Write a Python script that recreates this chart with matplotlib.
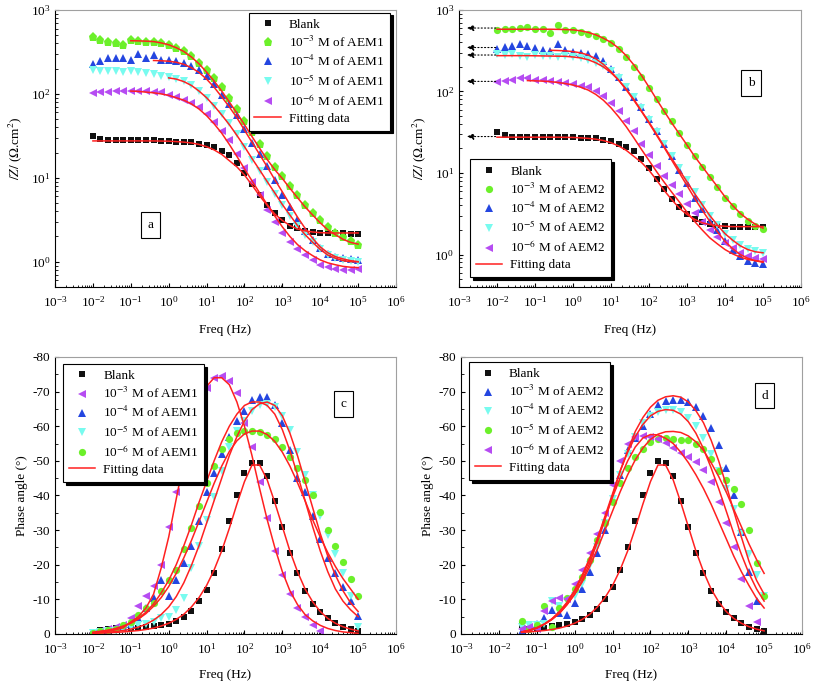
import matplotlib
matplotlib.use('Agg')
import matplotlib.pyplot as plt
from matplotlib.ticker import LogLocator, NullFormatter, FixedLocator, MultipleLocator

plt.rcParams['font.family'] = 'Liberation Serif'
plt.rcParams['mathtext.fontset'] = 'stix'
plt.rcParams['axes.unicode_minus'] = False

# measured frequencies (Hz), 5 points per decade, 10 mHz .. 100 kHz
freq = [0.01, 0.0158, 0.0251, 0.0398, 0.0631,
        0.1, 0.158, 0.251, 0.398, 0.631,
        1.0, 1.58, 2.51, 3.98, 6.31,
        10, 15.8, 25.1, 39.8, 63.1,
        100, 158, 251, 398, 631,
        1000, 1580, 2510, 3980, 6310,
        1e4, 1.58e4, 2.51e4, 3.98e4, 6.31e4, 1e5]

# ---- |Z| data (Ohm cm2) ----
blank_z = [31.5, 29, 28, 28, 28, 28, 28, 28, 28, 27.5, 27.5, 27, 27, 26.5, 25.5, 24.5, 23, 21,
           18.5, 15, 11.5, 8.5, 6.3, 4.8, 3.8, 3.1, 2.7, 2.5, 2.35, 2.28, 2.22, 2.2, 2.18, 2.17, 2.16, 2.15]
blank_z_fit = [27.5, 27.5, 27.5, 27.5, 27.5, 27.5, 27.5, 27.5, 27.5, 27.4, 27.3, 27.0, 26.6, 26.0, 25.0,
               23.5, 21.5, 19.0, 16.0, 13.5, 10.8, 8.2, 6.1, 4.7, 3.7, 3.1, 2.7, 2.45, 2.33, 2.26,
               2.22, 2.2, 2.2, 2.2, 2.2, 2.2]

# panel a : AEM1
a_m3 = [470, 440, 410, 400, 385, 440, 430, 420, 420, 400, 380, 350, 320, 280, 235, 195, 155, 120,
        90, 66, 48, 35, 25, 18, 13.5, 10.5, 8, 6.2, 4.8, 3.8, 3.1, 2.6, 2.2, 1.95, 1.75, 1.6]
a_m4 = [225, 245, 265, 265, 270, 255, 300, 265, 290, 255, 250, 245, 235, 215, 190, 165, 130, 98,
        76, 56, 38, 26, 19, 14, 9.5, 6.3, 4.5, 3.1, 2.3, 1.8, 1.45, 1.25, 1.15, 1.1, 1.07, 1.06]
a_m5 = [190, 185, 185, 185, 183, 185, 182, 178, 172, 165, 160, 150, 142, 128, 108, 90, 72, 57,
        45, 33, 23, 16.5, 12, 8.8, 6.4, 4.7, 3.5, 2.7, 2.1, 1.7, 1.4, 1.2, 1.1, 1.05, 1.02, 1.0]
a_m6 = [103, 105, 106, 107, 107, 108, 108, 107, 106, 104, 98, 92, 85, 77, 69, 57, 46, 36,
        28, 19, 13, 8.8, 6.3, 4.1, 3.0, 2.2, 1.7, 1.4, 1.2, 1.05, 0.92, 0.86, 0.82, 0.8, 0.8, 0.81]
# fits end at 100 kHz, they start at a later frequency
a_m3_fit = [430, 428, 425, 420, 405, 385, 355, 320, 275, 228, 182, 142, 108, 80, 59, 43, 31, 22.5,
            16.5, 12.5, 9.8, 7.5, 5.8, 4.5, 3.6, 2.9, 2.4, 2.1, 1.85, 1.7, 1.62]
a_m4_fit = [250, 248, 245, 238, 225, 205, 180, 150, 120, 92, 70, 52, 37, 26.5, 19, 13.5, 9.5, 6.8,
            4.8, 3.4, 2.5, 1.9, 1.5, 1.28, 1.15, 1.08, 1.03, 1.0]
a_m5_fit = [155, 150, 140, 126, 108, 90, 72, 56, 43, 32, 23.5, 17, 12.4, 9, 6.6, 4.8, 3.6, 2.7,
            2.1, 1.7, 1.4, 1.2, 1.1, 1.03, 1.0, 1.0]
a_m6_fit = [108, 107, 105, 103, 100, 96, 90, 84, 76, 66, 55, 44, 34, 25, 18, 12.8, 9.2, 6.6, 4.8,
            3.5, 2.6, 2.0, 1.6, 1.35, 1.18, 1.05, 0.97, 0.92, 0.88, 0.86, 0.85]

# panel b : AEM2
b_m3 = [570, 580, 590, 600, 620, 590, 580, 520, 650, 570, 560, 540, 510, 480, 440, 390, 330, 265,
        200, 150, 110, 80, 58, 43, 31, 22, 16, 12, 9, 6.8, 5, 3.9, 3.1, 2.6, 2.25, 2.05]
b_m4 = [330, 350, 360, 380, 360, 340, 320, 310, 380, 320, 305, 300, 290, 270, 235, 190, 150, 115,
        86, 64, 46, 33, 23, 16, 11, 7.5, 5, 3.6, 2.6, 2.0, 1.45, 1.15, 0.95, 0.83, 0.78, 0.76]
b_m5 = [290, 280, 285, 270, 265, 280, 275, 270, 265, 270, 265, 255, 245, 225, 205, 178, 145, 112,
        85, 62, 45, 32, 23, 16, 11.5, 8.2, 5.8, 4.1, 3, 2.3, 1.8, 1.5, 1.3, 1.18, 1.1, 1.05]
b_m6 = [130, 135, 140, 145, 145, 140, 138, 135, 132, 128, 124, 118, 112, 100, 88, 72, 57, 44,
        33, 23, 16.5, 12.2, 9.3, 7.2, 5.6, 4.2, 3.2, 2.5, 2.0, 1.65, 1.4, 1.2, 1.05, 0.95, 0.9, 0.87]
b_m3_fit = [580, 580, 580, 580, 580, 580, 580, 580, 578, 575, 570, 555, 530, 495, 450, 400, 340, 275,
            212, 158, 113, 80, 57, 41, 30, 22, 16, 12, 9, 6.8, 5.1, 4, 3.2, 2.7, 2.35, 2.1]
b_m4_fit = [320, 318, 315, 308, 298, 280, 252, 215, 175, 138, 105, 78, 57, 41, 29, 20.5, 14.3, 10,
            7, 4.9, 3.5, 2.55, 1.9, 1.45, 1.18, 1.0, 0.9, 0.84, 0.8]
b_m5_fit = [275, 275, 275, 275, 275, 274, 273, 272, 271, 270, 265, 258, 245, 225, 200, 170, 138, 107,
            80, 58, 42, 30, 21, 15, 10.8, 7.8, 5.6, 4.1, 3.0, 2.3, 1.8, 1.5, 1.28, 1.15, 1.08, 1.05]
b_m6_fit = [136, 135, 134, 132, 129, 125, 120, 113, 104, 92, 78, 63, 49, 37, 27, 19.5, 14.2, 10.4,
            7.7, 5.8, 4.4, 3.3, 2.55, 2.0, 1.6, 1.35, 1.15, 1.02, 0.93, 0.87, 0.84, 0.82]
b_dc_levels = [600, 346, 280, 133, 28]   # extrapolated low-frequency limits

# ---- phase angle data (deg) ----
blank_ph = [-0.5, -1.2, -1.5, -1.6, -1.6, -1.6, -1.8, -2, -2.2, -2.5, -3, -3.8, -4.8, -6.5, -9.5,
            -12.8, -17.5, -24.5, -32.5, -40, -46.5, -49.5, -49.5, -45.5, -38.5, -31, -23.5, -17.5,
            -12.5, -8.8, -6.4, -4.5, -3.2, -2.1, -1.4, -0.8]
blank_ph_fit = [-0.2, -0.3, -0.35, -0.45, -0.6, -0.8, -1.0, -1.3, -1.7, -2.3, -3.1, -4.2, -5.7, -7.8,
                -10.5, -14, -18.5, -24, -30.5, -37.5, -44, -48.8, -48.8, -44.5, -38, -31, -24, -18,
                -13, -9.3, -6.5, -4.5, -3.1, -2.1, -1.4, -0.9]

# panel c : AEM1 (10^-3 series stops at 10 kHz)
c_m3 = [-0.3, -0.8, -1.5, -2, -2.5, -4.5, -8, -11, -14, -20, -31, -41, -51, -60, -67, -71, -74,
        -74.5, -73, -69.5, -61, -54, -44, -33.5, -24, -17, -11.5, -7.5, -4.8, -2.6, -1.0]
c_m4 = [-0.3, -0.6, -1, -1.5, -2, -3, -4.5, -7.5, -10.5, -15.5, -11, -15.5, -20.5, -25.5, -32.5, -41,
        -46.5, -52, -57, -61.5, -64.5, -67.5, -68.5, -68.5, -66, -61, -53, -45, -41, -34, -27.5,
        -22, -17.5, -13.5, -9.5, -5.3]
c_m5 = [-0.3, -0.5, -0.8, -1, -1.5, -2, -2.5, -3, -3.5, -4.5, -5, -7, -10.5, -19, -25.5, -33, -39.5,
        -47, -54, -58.5, -61.5, -64.5, -66, -66.5, -65.5, -63, -59, -52.5, -46, -40, -34, -28.5,
        -23, -17.5, -11, -2]
c_m6 = [-0.3, -0.8, -1.2, -1.5, -2.5, -3.5, -5.5, -7.5, -9, -12.5, -15.5, -18.5, -24.5, -30.5, -37,
        -43.5, -48.5, -53.5, -56.3, -58, -58.7, -58.5, -58.2, -57.5, -56.2, -54, -51.2, -47.8,
        -44.5, -40, -35.3, -30, -25.5, -20.8, -16, -11]
c_m3_fit = [-0.3, -0.5, -0.8, -1.2, -1.8, -3.5, -5, -7.5, -11.5, -19, -28, -39, -50, -60, -67, -71.5,
            -74, -74, -72, -67, -60, -51.5, -42, -33, -25, -18, -12.5, -8.5, -5.6, -3.8, -2.5,
            -1.6, -1.0, -0.6, -0.4, -0.2]
c_m4_fit = [-0.5, -0.8, -1.1, -1.6, -2.3, -3.2, -4.5, -6.3, -8.7, -11.8, -15.5, -20, -25.5, -31.5,
            -38, -44, -50, -55.5, -60, -63.5, -66, -67, -67, -66, -63.5, -59, -53, -46, -38.5, -31,
            -24, -18, -13, -9.5, -7, -5]
c_m5_fit = [-0.3, -0.4, -0.5, -0.7, -1.0, -1.4, -2, -2.8, -4, -5.6, -7.8, -10.8, -14.8, -19.8, -25.5,
            -32, -38.5, -45, -51.5, -57, -61.5, -64.8, -66.5, -67, -66, -63, -58, -51.5, -44, -36.5,
            -29, -22.5, -17, -12.5, -9, -6.5]
c_m6_fit = [-0.4, -0.7, -1.0, -1.5, -2.2, -3.1, -4.3, -5.9, -8, -10.5, -13.7, -17.5, -22, -27, -32.5,
            -38, -43.5, -48.5, -52.7, -55.8, -57.8, -58.6, -58.6, -57.6, -55.6, -52.5, -48.5, -43.7,
            -38.5, -33, -28, -23.5, -19.5, -16, -13, -10]

# panel d : AEM2 (measured from 40 mHz)
d_blank = [-2.5, -1.5, -1.5, -1.8, -2.3, -2.6, -3, -3.4, -4.2, -5.5, -7.2, -10, -13.5, -18.5, -25,
           -32.5, -40, -46.5, -50, -49.5, -45.5, -38.5, -31, -23.5, -17.5, -12.5, -8.8, -6.4, -4.5,
           -3.2, -2.1, -1.4, -0.8]
d_m3 = [-1, -2, -3, -4.5, -7, -6, -5.5, -9, -13, -18, -23.5, -30, -39, -46, -53, -56.5, -60, -63.5,
        -66, -67.3, -67.7, -67.5, -67, -65.5, -63, -59.5, -54.5, -48, -40, -29.5, -18, -9.5]
d_m4 = [-2, -2.5, -2.5, -3, -9.5, -8, -9.5, -11, -14.5, -20, -25, -32, -39, -46, -52, -57, -60.8, -63,
        -64.2, -64.7, -64.7, -64, -62.3, -60, -56.5, -52, -47, -42, -36, -29, -23, -17, -11]
d_m5 = [-3.8, -1.5, -2.5, -8, -2, -7.5, -10.5, -13, -16.5, -21.5, -27, -32, -38, -43.5, -48, -51,
        -53.5, -55.5, -56.3, -56.6, -56.3, -56, -56, -55, -53.5, -50.5, -47, -44.5, -42, -37.5,
        -30, -20.5, -11]
d_m6 = [-1.5, -2, -1.5, -6.5, -9.5, -10.5, -10, -14.5, -18.5, -23.5, -29, -35, -43, -50, -55, -56.8,
        -57.2, -56.8, -56.3, -55.2, -53.6, -52.2, -51.2, -49.7, -47.3, -44, -38, -32, -25, -16,
        -8, -3.5]
d_m3_fit = [-0.5, -1, -1.7, -2.8, -4.2, -6, -8.5, -11.5, -15.5, -20.5, -26.5, -33, -40, -47, -53,
            -58.5, -62.5, -65.5, -67.5, -68.5, -68.8, -68.4, -67, -64.5, -61, -56, -50, -43, -35.5,
            -28, -21, -15.5, -11.5]
d_m4_fit = [-0.5, -1, -1.7, -2.8, -4.3, -6.3, -9, -12.3, -16.5, -21.5, -27.5, -34, -40.5, -47, -52.5,
            -57, -60.5, -63, -64.3, -64.8, -64.6, -63.5, -61.3, -58, -53.5, -48, -42, -35.5, -29,
            -23, -17.5, -13, -9.5]
d_m5_fit = [-0.6, -1.1, -1.8, -2.8, -4.2, -6, -8.5, -11.5, -15, -19.5, -24.5, -30, -35.5, -41, -46,
            -50.3, -53.7, -56.2, -57.7, -58.4, -58.5, -58.2, -57.2, -55.5, -53, -49.5, -45.5, -41,
            -36, -31, -26, -21.5, -17.5]
d_m6_fit = [-0.6, -1.1, -1.8, -2.9, -4.4, -6.5, -9.2, -12.7, -17, -22, -27.5, -33.5, -39.5, -45, -50,
            -54, -56.6, -57.6, -57.5, -56.5, -55, -52.5, -49.5, -46, -42, -37.5, -32.5, -27.5,
            -22.5, -18, -14, -10.3, -7.5]

BLACK = '#111111'
GREEN = '#6cf02a'
BLUE = '#2446e0'
CYAN = '#78fbef'
PURPLE = '#b64cf2'
RED = '#ff2020'

sty = {
    'blank': dict(marker='s', color=BLACK, ms=4.5),
    'pent': dict(marker='p', color=GREEN, ms=6.5),
    'circ': dict(marker='o', color=GREEN, ms=5.2),
    'up': dict(marker='^', color=BLUE, ms=6.2),
    'down': dict(marker='v', color=CYAN, ms=6.2),
    'left': dict(marker='<', color=PURPLE, ms=6.2),
}


def plot_panel(ax, series, fits, x0=0):
    for vals, key, label in series:
        ax.plot(freq[x0:x0 + len(vals)], vals, ls='none', mew=0, label=label,
                zorder=2, **sty[key])
    for i, fit in enumerate(fits):
        ax.plot(freq[len(freq) - len(fit):], fit, color=RED, lw=1.1, zorder=3,
                label='Fitting data' if i == 0 else None)


def style_axes(ax, logy):
    ax.set_xscale('log')
    ax.set_xlim(1e-3, 1e6)
    ax.xaxis.set_major_locator(FixedLocator([10.0 ** k for k in range(-3, 7)]))
    ax.xaxis.set_minor_locator(LogLocator(base=10, subs=range(2, 10), numticks=40))
    ax.xaxis.set_minor_formatter(NullFormatter())
    if logy:
        ax.set_yscale('log')
        ax.yaxis.set_major_locator(FixedLocator([1, 10, 100, 1000]))
        ax.yaxis.set_minor_locator(LogLocator(base=10, subs=range(2, 10), numticks=20))
        ax.yaxis.set_minor_formatter(NullFormatter())
    else:
        ax.set_ylim(0, -80)
        ax.set_yticks([0, -10, -20, -30, -40, -50, -60, -70, -80])
        ax.yaxis.set_minor_locator(MultipleLocator(5))
    ax.tick_params(which='both', direction='in', top=False, right=False, labelsize=9.5)
    ax.tick_params(which='major', length=3.2, width=0.8)
    ax.tick_params(which='minor', length=1.8, width=0.6)
    ax.tick_params(axis='x', which='major', pad=6)
    for sp in ['top', 'right']:
        ax.spines[sp].set_color('#a0a0a0')
    for sp in ['left', 'bottom']:
        ax.spines[sp].set_linewidth(0.8)
    ax.set_xlabel('Freq (Hz)', fontsize=9.5)


def add_legend(ax, **kw):
    leg = ax.legend(fontsize=9.5, frameon=True, fancybox=False, framealpha=1,
                    edgecolor='black', labelspacing=0.3, handletextpad=0.6,
                    borderpad=0.45, borderaxespad=0, markerscale=1.0,
                    shadow={'color': 'black', 'alpha': 1.0}, **kw)
    leg.get_frame().set_linewidth(0.8)
    return leg


def tag(ax, x, y, s):
    ax.text(x, y, s, transform=ax.transAxes, fontsize=9.5, ha='center', va='center',
            bbox=dict(boxstyle='square,pad=0.5', fc='white', ec='black', lw=0.8))


fig = plt.figure(figsize=(8.13, 6.91), dpi=100)
ax_a = fig.add_axes([0.0677, 0.5847, 0.4194, 0.4009])
ax_b = fig.add_axes([0.5646, 0.5847, 0.4207, 0.4009])
ax_c = fig.add_axes([0.0677, 0.0825, 0.4194, 0.4009])
ax_d = fig.add_axes([0.5670, 0.0825, 0.4195, 0.4009])

# (a)
plot_panel(ax_a,
           [(blank_z, 'blank', 'Blank'),
            (a_m3, 'pent', '10$^{-3}$ M of AEM1'),
            (a_m4, 'up', '10$^{-4}$ M of AEM1'),
            (a_m5, 'down', '10$^{-5}$ M of AEM1'),
            (a_m6, 'left', '10$^{-6}$ M of AEM1')],
           [blank_z_fit, a_m3_fit, a_m4_fit, a_m5_fit, a_m6_fit])
style_axes(ax_a, True)
ax_a.set_ylim(0.5, 1000)
ax_a.set_ylabel(r'$\mathit{/Z/}$ ($\Omega$.cm$^2$)', fontsize=9.5, labelpad=5)
add_legend(ax_a, loc='upper right', bbox_to_anchor=(0.982, 0.99))
tag(ax_a, 0.28, 0.224, 'a')

# (b)
plot_panel(ax_b,
           [(blank_z, 'blank', 'Blank'),
            (b_m3, 'circ', '10$^{-3}$ M of AEM2'),
            (b_m4, 'up', '10$^{-4}$ M of AEM2'),
            (b_m5, 'down', '10$^{-5}$ M of AEM2'),
            (b_m6, 'left', '10$^{-6}$ M of AEM2')],
           [blank_z_fit, b_m3_fit, b_m4_fit, b_m5_fit, b_m6_fit])
for lvl in b_dc_levels:
    ax_b.annotate('', xy=(0.0016, lvl), xytext=(0.0092, lvl),
                  arrowprops=dict(arrowstyle='-|>,head_length=0.4,head_width=0.18',
                                  color='black', lw=0.8, ls=(0, (1, 2)),
                                  shrinkA=0, shrinkB=0))
style_axes(ax_b, True)
ax_b.set_ylim(0.4, 1000)
ax_b.set_ylabel(r'$\mathit{/Z/}$ ($\Omega$.cm$^2$)', fontsize=9.5, labelpad=5)
add_legend(ax_b, loc='lower left', bbox_to_anchor=(0.032, 0.035))
tag(ax_b, 0.854, 0.736, 'b')

# (c)
plot_panel(ax_c,
           [(blank_ph, 'blank', 'Blank'),
            (c_m3, 'left', '10$^{-3}$ M of AEM1'),
            (c_m4, 'up', '10$^{-4}$ M of AEM1'),
            (c_m5, 'down', '10$^{-5}$ M of AEM1'),
            (c_m6, 'circ', '10$^{-6}$ M of AEM1')],
           [blank_ph_fit, c_m3_fit, c_m4_fit, c_m5_fit, c_m6_fit])
style_axes(ax_c, False)
ax_c.set_ylabel('Phase angle (°)', fontsize=9.5, labelpad=3)
add_legend(ax_c, loc='upper left', bbox_to_anchor=(0.023, 0.975))
tag(ax_c, 0.845, 0.83, 'c')

# (d)
plot_panel(ax_d,
           [(d_blank, 'blank', 'Blank'),
            (d_m3, 'up', '10$^{-3}$ M of AEM2'),
            (d_m4, 'down', '10$^{-4}$ M of AEM2'),
            (d_m5, 'circ', '10$^{-5}$ M of AEM2'),
            (d_m6, 'left', '10$^{-6}$ M of AEM2')],
           [blank_ph_fit[3:], d_m3_fit, d_m4_fit, d_m5_fit, d_m6_fit], x0=3)
style_axes(ax_d, False)
ax_d.set_ylabel('Phase angle (°)', fontsize=9.5, labelpad=3)
add_legend(ax_d, loc='upper left', bbox_to_anchor=(0.023, 0.982))
tag(ax_d, 0.89, 0.86, 'd')

for ax in (ax_a, ax_b):
    ax.xaxis.labelpad = 10
for ax in (ax_c, ax_d):
    ax.xaxis.labelpad = 9

fig.savefig('out.png', dpi=100)
